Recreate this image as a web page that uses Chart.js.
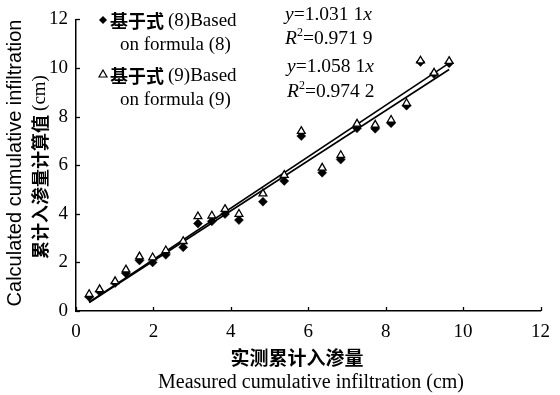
<!DOCTYPE html>
<html>
<head>
<meta charset="utf-8">
<script src="https://cdn.jsdelivr.net/npm/chart.js@4.4.1/dist/chart.umd.min.js"></script>
<style>
  html, body { margin: 0; padding: 0; background: #fff; }
  #wrap { width: 560px; height: 395px; position: relative; }
</style>
</head>
<body>
<div id="wrap"><canvas id="c"></canvas></div>
<script>
// Measured cumulative infiltration (cm)
const measured = [0.34, 0.61, 1.01, 1.29, 1.64, 1.98, 2.32, 2.77, 3.15, 3.51, 3.85, 4.21,
                  4.83, 5.38, 5.82, 6.36, 6.84, 7.26, 7.73, 8.14, 8.54, 8.90, 9.25, 9.64];
// Calculated by formula (8)
const calcF8 = [0.58, 0.80, 1.15, 1.55, 2.08, 2.00, 2.31, 2.62, 3.60, 3.69, 3.99, 3.74,
                4.50, 5.35, 7.20, 5.69, 6.23, 7.52, 7.50, 7.73, 8.45, 10.25, 9.75, 10.20];
// Calculated by formula (9)
const calcF9 = [0.69, 0.89, 1.22, 1.70, 2.24, 2.20, 2.49, 2.87, 3.89, 3.92, 4.19, 3.99,
                4.83, 5.59, 7.40, 5.89, 6.41, 7.70, 7.66, 7.86, 8.55, 10.30, 9.80, 10.28];
// Regression through the origin: y = k x
const slopeF8 = 1.0311;
const slopeF9 = 1.0581;
const r2F8 = '0.971 9';
const r2F9 = '0.974 2';
const axisTicks = [0, 2, 4, 6, 8, 10, 12];

const SERIF = '"Liberation Serif", "Times New Roman", serif';
const SANS = '"Liberation Sans", Arial, sans-serif';
const CJK = '"Noto Sans CJK SC", sans-serif';

const pts = ys => measured.map((x, i) => ({ x: x, y: ys[i] }));
const xMin = Math.min(...measured), xMax = Math.max(...measured);
const fit = k => [{ x: xMin, y: k * xMin }, { x: xMax, y: k * xMax }];

// inward tick marks on both axes
const innerTicks = {
  id: 'innerTicks',
  afterDatasetsDraw(chart) {
    const ctx = chart.ctx, xs = chart.scales.x, ys = chart.scales.y;
    ctx.save();
    ctx.strokeStyle = '#000';
    ctx.lineWidth = 1.3;
    axisTicks.forEach(v => {
      const px = Math.round(xs.getPixelForValue(v)) + 0.5;
      ctx.beginPath(); ctx.moveTo(px, ys.bottom); ctx.lineTo(px, ys.bottom - 4); ctx.stroke();
      const py = Math.round(ys.getPixelForValue(v)) + 0.5;
      ctx.beginPath(); ctx.moveTo(xs.left, py); ctx.lineTo(xs.left + 4, py); ctx.stroke();
    });
    ctx.restore();
  }
};

// draws mixed-font text left to right from (x, y)
function runs(ctx, x, y, parts) {
  ctx.textAlign = 'left';
  parts.forEach(p => {
    ctx.font = p.font;
    ctx.fillText(p.t, x, y + (p.dy || 0));
    x += ctx.measureText(p.t).width + (p.gap || 0);
  });
  return x;
}

function runsWidth(ctx, parts) {
  let w = 0;
  parts.forEach(p => { ctx.font = p.font; w += ctx.measureText(p.t).width + (p.gap || 0); });
  return w;
}

// legend, regression equations and axis titles
const annotations = {
  id: 'annotations',
  afterDraw(chart) {
    const ctx = chart.ctx;
    ctx.save();
    ctx.fillStyle = '#000';
    ctx.textBaseline = 'middle';

    const serif = '19px ' + SERIF;
    const cjkB = 'bold 18px ' + CJK;

    // legend markers
    ctx.beginPath();
    ctx.moveTo(103, 16); ctx.lineTo(107, 20); ctx.lineTo(103, 24); ctx.lineTo(99, 20);
    ctx.closePath(); ctx.fill();
    ctx.beginPath();
    ctx.moveTo(103, 70); ctx.lineTo(107, 77); ctx.lineTo(99, 77); ctx.closePath();
    ctx.fillStyle = '#fff'; ctx.fill();
    ctx.strokeStyle = '#000'; ctx.lineWidth = 1.2; ctx.stroke();
    ctx.fillStyle = '#000';

    runs(ctx, 110, 21, [{ t: '基于式', font: cjkB, gap: 4 }, { t: '(8)Based', font: serif }]);
    runs(ctx, 120, 45, [{ t: 'on formula (8)', font: serif }]);
    runs(ctx, 110, 76, [{ t: '基于式', font: cjkB, gap: 4 }, { t: '(9)Based', font: serif }]);
    runs(ctx, 120, 100, [{ t: 'on formula (9)', font: serif }]);

    // equations
    const eq = '19.5px ' + SERIF;
    const it = 'italic 19.5px ' + SERIF;
    const sup = '12px ' + SERIF;
    const k8 = slopeF8.toFixed(4).replace(/(\d\.\d{3})(\d)/, '$1 $2');
    const k9 = slopeF9.toFixed(4).replace(/(\d\.\d{3})(\d)/, '$1 $2');
    runs(ctx, 285, 15, [{ t: 'y', font: it }, { t: '=' + k8, font: eq }, { t: 'x', font: it }]);
    runs(ctx, 285, 39, [{ t: 'R', font: it }, { t: '2', font: sup, dy: -6 }, { t: '=' + r2F8, font: eq }]);
    runs(ctx, 287, 67, [{ t: 'y', font: it }, { t: '=' + k9, font: eq }, { t: 'x', font: it }]);
    runs(ctx, 287, 92, [{ t: 'R', font: it }, { t: '2', font: sup, dy: -6 }, { t: '=' + r2F9, font: eq }]);

    // x-axis title
    ctx.textAlign = 'center';
    ctx.font = 'bold 19px ' + CJK;
    ctx.fillText('实测累计入渗量', 297, 358);
    ctx.font = '20px ' + SERIF;
    ctx.fillText('Measured cumulative infiltration (cm)', 311, 383);

    // y-axis title
    ctx.save();
    ctx.translate(15, 163);
    ctx.rotate(-Math.PI / 2);
    ctx.textAlign = 'center';
    ctx.font = '20px ' + SANS;
    ctx.fillText('Calculated cumulative infiltration', 0, 0);
    ctx.restore();

    ctx.save();
    ctx.translate(40, 167);
    ctx.rotate(-Math.PI / 2);
    const yParts = [{ t: '累计入渗量计算值', font: 'bold 18px ' + CJK, gap: 4 }, { t: '(cm)', font: serif }];
    runs(ctx, -runsWidth(ctx, yParts) / 2, 0, yParts);
    ctx.restore();

    ctx.restore();
  }
};

new Chart(document.getElementById('c'), {
  type: 'scatter',
  data: {
    datasets: [
      {
        label: 'formula (9)', data: pts(calcF9), order: 0,
        pointStyle: 'triangle', pointRadius: 4.5, pointBorderWidth: 1.3,
        pointBackgroundColor: '#fff', pointBorderColor: '#000'
      },
      {
        label: 'formula (8)', data: pts(calcF8), order: 1,
        pointStyle: 'rectRot', pointRadius: 4.5, pointBorderWidth: 0.5,
        pointBackgroundColor: '#000', pointBorderColor: '#000'
      },
      {
        label: 'fit (8)', data: fit(slopeF8), order: 2, showLine: true,
        pointRadius: 0, borderColor: '#000', borderWidth: 1.6
      },
      {
        label: 'fit (9)', data: fit(slopeF9), order: 2, showLine: true,
        pointRadius: 0, borderColor: '#000', borderWidth: 1.6
      }
    ]
  },
  options: {
    responsive: true,
    maintainAspectRatio: false,
    animation: false,
    layout: { padding: { top: 17, right: 12, left: 0, bottom: 0 } },
    plugins: { legend: { display: false }, tooltip: { enabled: false } },
    scales: {
      x: {
        type: 'linear', min: 0, max: 12,
        afterFit: s => { s.height = 84; },
        afterBuildTicks: s => { s.ticks = axisTicks.map(v => ({ value: v })); },
        grid: { display: false, drawTicks: false },
        border: { display: true, color: '#000', width: 1.5 },
        ticks: { color: '#000', padding: 10, font: { family: SERIF, size: 19 } }
      },
      y: {
        type: 'linear', min: 0, max: 12,
        afterFit: s => { s.width = 76; },
        afterBuildTicks: s => { s.ticks = axisTicks.map(v => ({ value: v })); },
        grid: { display: false, drawTicks: false },
        border: { display: true, color: '#000', width: 1.5 },
        ticks: { color: '#000', padding: 8, font: { family: SERIF, size: 19 } }
      }
    }
  },
  plugins: [innerTicks, annotations]
});
</script>
</body>
</html>
